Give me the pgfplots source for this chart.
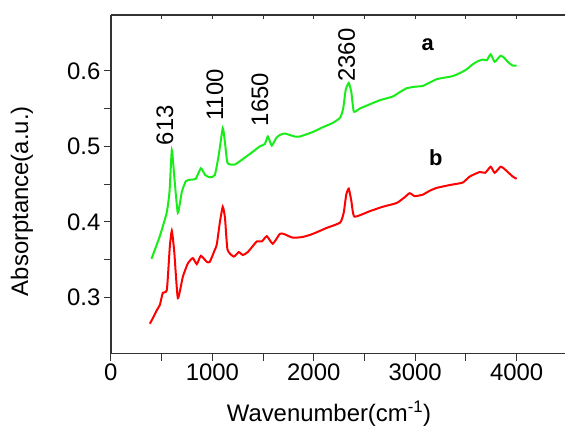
\documentclass[border=0pt]{standalone}
\usepackage{pgfplots}
\pgfplotsset{compat=1.18}
\usepackage{fontspec}
\setmainfont{Liberation Sans}
\definecolor{lgreen}{rgb}{0.1,0.93,0.1}
\definecolor{lred}{rgb}{1,0,0}
\begin{document}
\begin{tikzpicture}
\begin{axis}[
  name=ax,
  scale only axis,
  width=455bp, height=339bp,
  xmin=0, xmax=4480, ymin=0.2255, ymax=0.674,
  xtick={0,1000,2000,3000,4000},
  ytick={0.3,0.4,0.5,0.6},
  minor x tick num=1, minor y tick num=1,
  axis x line*=box, axis y line*=left,
  xtick pos=bottom, ytick pos=left,
  tick align=outside,
  major tick length=7bp, minor tick length=7bp,
  every tick/.style={line width=1bp, black!80},
  axis line style={line width=1.3bp, black!80},
  /pgf/number format/assume math mode=true,
  /pgf/number format/set thousands separator={},
  yticklabel style={/pgf/number format/fixed, /pgf/number format/precision=1, /pgf/number format/fixed zerofill},
  scaled x ticks=false,
  ticklabel style={font=\fontsize{24}{27}\selectfont},
  label style={font=\fontsize{24}{27}\selectfont},
  xlabel={Wavenumber(cm\textsuperscript{-1})},
  ylabel={Absorptance(a.u.)},
  xlabel style={at={([yshift=-60bp]axis cs:2150,0.2255)}, anchor=center},
  ylabel style={at={([xshift=-89bp]axis description cs:0,0.45)}, anchor=center},
  clip=false,
]
% curve a
\addplot[lgreen, line width=2bp, smooth, tension=0.3] coordinates {
  (400,0.351) (480,0.380) (550,0.412) (578,0.440) (601,0.495) (625,0.460) (660,0.412)
  (700,0.440) (740,0.454) (790,0.456) (837,0.457) (887,0.471) (930,0.462) (975,0.459)
  (1025,0.462) (1065,0.490) (1103,0.524) (1125,0.505) (1150,0.478) (1222,0.476)
  (1320,0.485) (1420,0.495) (1468,0.500) (1517,0.503) (1547,0.513) (1586,0.501)
  (1630,0.511) (1665,0.515) (1714,0.517) (1813,0.513) (1862,0.513) (1990,0.519)
  (2100,0.526) (2187,0.531) (2260,0.538) (2290,0.550) (2315,0.575) (2345,0.584)
  (2370,0.572) (2395,0.546) (2453,0.550) (2522,0.554) (2650,0.561) (2778,0.566)
  (2850,0.572) (2916,0.577) (3000,0.579) (3074,0.580) (3150,0.585) (3212,0.589)
  (3290,0.591) (3369,0.593) (3440,0.597) (3507,0.602) (3560,0.608) (3606,0.612)
  (3665,0.615) (3705,0.614) (3744,0.622) (3783,0.612) (3842,0.620) (3880,0.617)
  (3911,0.612) (3961,0.607) (4000,0.607)
};
% curve b
\addplot[lred, line width=2bp, smooth, tension=0.3] coordinates {
  (384,0.265) (420,0.274) (453,0.283) (483,0.290) (512,0.306) (552,0.310) (581,0.367)
  (601,0.388) (625,0.360) (660,0.299) (709,0.327) (759,0.345) (808,0.352) (847,0.344)
  (887,0.355) (946,0.347) (975,0.347) (1025,0.363) (1044,0.370) (1074,0.399)
  (1103,0.420) (1125,0.405) (1150,0.363) (1212,0.354) (1261,0.360) (1300,0.356)
  (1350,0.360) (1438,0.374) (1488,0.374) (1537,0.381) (1596,0.371) (1665,0.384)
  (1704,0.384) (1793,0.379) (1892,0.380) (1990,0.384) (2128,0.392) (2260,0.399)
  (2295,0.412) (2320,0.436) (2345,0.444) (2370,0.428) (2400,0.407) (2550,0.414)
  (2680,0.420) (2818,0.425) (2900,0.433) (2946,0.438) (2995,0.434) (3074,0.436)
  (3140,0.441) (3212,0.445) (3350,0.449) (3468,0.452) (3537,0.460) (3635,0.466)
  (3690,0.465) (3744,0.473) (3783,0.465) (3842,0.473) (3880,0.470) (3961,0.460)
  (4000,0.457)
};
\node[rotate=90, font=\fontsize{24}{27}\selectfont] at (axis cs:532,0.528) {613};
\node[rotate=90, font=\fontsize{24}{27}\selectfont] at (axis cs:1025,0.568) {1100};
\node[rotate=90, font=\fontsize{24}{27}\selectfont] at (axis cs:1468,0.562) {1650};
\node[rotate=90, font=\fontsize{24}{27}\selectfont] at (axis cs:2325,0.621) {2360};
\node[font=\fontsize{22}{24}\selectfont\bfseries] at (axis cs:3123,0.634) {a};
\node[font=\fontsize{22}{24}\selectfont\bfseries] at (axis cs:3202,0.485) {b};
% top ticks pointing inward
\pgfplotsinvokeforeach{500,1000,1500,2000,2500,3000,3500,4000}{
  \draw[line width=1bp, black!80] (axis cs:#1,0.674) -- ([yshift=-4bp]axis cs:#1,0.674);
}
\end{axis}
\path ([yshift=15bp]ax.north west) -- ([yshift=-75bp]ax.south west) -- ([xshift=-111bp]ax.south west);
\end{tikzpicture}
\end{document}
